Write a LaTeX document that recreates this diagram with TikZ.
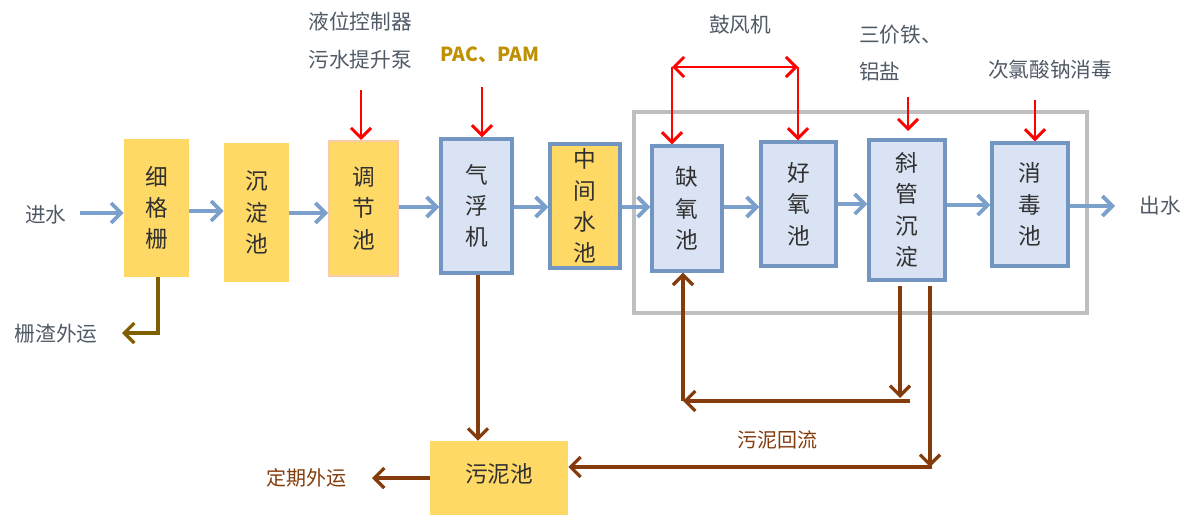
\documentclass[tikz,border=0pt]{standalone}
\usepackage{fontspec}
\setmainfont{Noto Sans CJK SC}
\usetikzlibrary{arrows.meta}
\definecolor{ylw}{HTML}{FFD966}
\definecolor{lblue}{HTML}{DAE3F3}
\definecolor{bborder}{HTML}{7295C2}
\definecolor{flowc}{HTML}{7BA0CB}
\definecolor{brn}{HTML}{843C0C}
\definecolor{olv}{HTML}{7F6000}
\definecolor{goldc}{HTML}{BF9000}
\definecolor{txt}{HTML}{303030}
\definecolor{lbl}{HTML}{505A66}
\definecolor{framec}{HTML}{BFBFBF}
\definecolor{pinkb}{HTML}{F8CBAD}
\begin{document}
\begin{tikzpicture}[x=0.75pt,y=-0.75pt,
  boxtext/.style={font=\fontsize{17}{23.5}\selectfont, text=txt, align=center, inner sep=0pt},
  ybox/.style={boxtext, fill=ylw},
  bbox/.style={boxtext, fill=lblue, draw=bborder, line width=2.6pt},
  lab/.style={font=\fontsize{15.5}{20}\selectfont, text=lbl, inner sep=0pt},
  barb/.style={-{Straight Barb[length=7.5pt,width=15pt]}},
  flow/.style={barb, draw=flowc, line width=2.8pt},
  red/.style={barb, draw=red, line width=2.2pt},
  sludge/.style={barb, draw=brn, line width=2.5pt},
]
\useasboundingbox (0,0) rectangle (1192,514);
% frame
\draw[framec, line width=2.5pt] (634,112) rectangle (1087,313);
% boxes
\node[ybox, minimum width=65*0.75pt, minimum height=138*0.75pt] (g1) at (156.5,208) {细\\格\\栅};
\node[ybox, minimum width=65*0.75pt, minimum height=139*0.75pt] (g2) at (256.5,212.5) {沉\\淀\\池};
\node[ybox, draw=pinkb, line width=1.5pt, minimum width=69*0.75pt, minimum height=135*0.75pt] (g3) at (363.5,208.5) {调\\节\\池};
\node[bbox, minimum width=71*0.75pt, minimum height=134*0.75pt] (g4) at (476.5,206) {气\\浮\\机};
\node[bbox, fill=ylw, minimum width=70*0.75pt, minimum height=124*0.75pt] (g5) at (585,206) {中\\间\\水\\池};
\node[bbox, minimum width=70*0.75pt, minimum height=125*0.75pt] (g6) at (687,208.5) {缺\\氧\\池};
\node[bbox, minimum width=75*0.75pt, minimum height=124*0.75pt] (g7) at (798.5,204) {好\\氧\\池};
\node[bbox, minimum width=76*0.75pt, minimum height=140*0.75pt] (g8) at (907,210) {斜\\管\\沉\\淀};
\node[bbox, minimum width=76*0.75pt, minimum height=123*0.75pt] (g9) at (1030,204.5) {消\\毒\\池};
\node[ybox, minimum width=138*0.75pt, minimum height=74*0.75pt] (sl) at (499,478) {\raisebox{7pt}{污泥池}};
% outer labels
\node[lab] (in) at (46,215) {进水};
\node[lab] (out) at (1160,206) {出水};
\node[lab] (grit) at (56,334) {栅渣外运};
\node[lab] (l1) at (360,22) {液位控制器};
\node[lab] (l2) at (360,60) {污水提升泵};
\node[font=\fontsize{14.5}{18}\selectfont\bfseries, text=goldc, inner sep=0pt] (pac) at (490,55) {PAC、PAM};
\node[lab] (blow) at (740,25) {鼓风机};
\node[lab, anchor=west] (fe1) at (859,35) {三价铁、};
\node[lab, anchor=west] (fe2) at (859,72) {铝盐};
\node[lab] (naclo) at (1050,70) {次氯酸钠消毒};
\node[font=\fontsize{15}{18}\selectfont, text=brn, inner sep=0pt] (reg) at (306,478) {定期外运};
\node[font=\fontsize{15}{18}\selectfont, text=brn, inner sep=0pt] (ret) at (777,440) {污泥回流};
% coordinates for free ends
\coordinate (r1) at (361,90);
\coordinate (r2) at (482,87);
\coordinate (bl) at (672,67);
\coordinate (br) at (798,67);
\coordinate (r3) at (908,97);
\coordinate (r4) at (1035,100);
\coordinate (gr) at (158,333);
\coordinate (b1) at (900,398);
\coordinate (b2) at (910,401);
\coordinate (b3) at (683,401);
\coordinate (c1) at (930,467);
% blue flow arrows
\draw[flow] (80,213) -- (g1.west |- 0,213);
\draw[flow] (g1.east |- 0,211) -- (g2.west |- 0,211);
\draw[flow] (g2.east |- 0,213) -- (g3.west |- 0,213);
\draw[flow] (g3.east |- 0,207) -- (g4.west |- 0,207);
\draw[flow] (g4.east |- 0,207) -- (g5.west |- 0,207);
\draw[flow] (g5.east |- 0,207) -- (g6.west |- 0,207);
\draw[flow] (g6.east |- 0,207) -- (g7.west |- 0,207);
\draw[flow] (g7.east |- 0,204) -- (g8.west |- 0,204);
\draw[flow] (g8.east |- 0,205) -- (g9.west |- 0,205);
\draw[flow] (g9.east |- 0,206) -- (1115,206);
% red dosing arrows
\draw[red] (r1) -- (g3.north -| r1);
\draw[red] (r2) -- (g4.north -| r2);
\draw[red] (r3) -- (r3 |- 0,131);
\draw[red] (r4) -- (g9.north -| r4);
\draw[red, {Straight Barb[length=7.5pt,width=15pt]}-{Straight Barb[length=7.5pt,width=15pt]}] (bl) -- (br);
\draw[red] (bl) -- (g6.north -| bl);
\draw[red] (br) -- (g7.north -| br);
% grit
\draw[barb, draw=olv, line width=2.5pt] (g1.south -| gr) -- (gr) -- (122,333);
% sludge
\draw[sludge] (g4.south -| 478,0) -- (sl.north -| 478,0);
\draw[sludge] (g8.south -| b1) ++(0,4) -- (b1);
\draw[sludge] (b2) -- (b3);
\draw[sludge] (b3) -- (g6.south -| b3);
\draw[sludge] (g8.south -| c1) ++(0,4) -- (c1);
\draw[sludge] (c1) ++(2,0) -- (sl.east |- c1);
\draw[sludge] (sl.west |- 0,478) -- (372,478);
\end{tikzpicture}
\end{document}
